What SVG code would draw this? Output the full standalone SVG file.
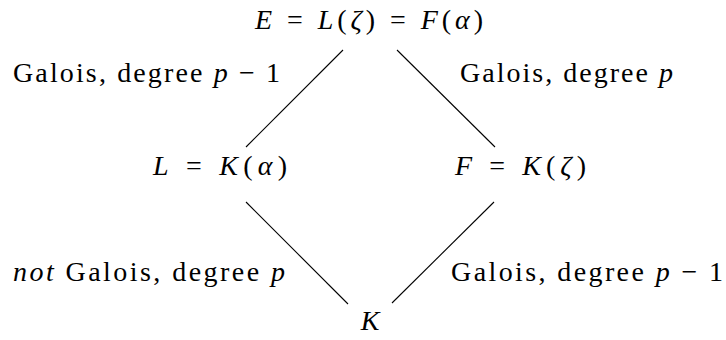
<svg xmlns="http://www.w3.org/2000/svg" width="726" height="340" viewBox="0 0 726 340">
<style>
.i{font-style:italic}
.edge{stroke:#000;stroke-width:1.1;fill:none}
</style>
<rect width="726" height="340" fill="#fff"/>
<g id="connectors">
<line class="edge" x1="343" y1="50" x2="246" y2="147"/>
<line class="edge" x1="397" y1="50" x2="495" y2="147"/>
<line class="edge" x1="246" y1="202" x2="348" y2="304"/>
<line class="edge" x1="494" y1="202" x2="392" y2="303"/>
</g>
<g font-family="Liberation Serif, DejaVu Serif, serif" font-size="28" fill="#000">
<g id="nodeE"><text x="255" y="29" textLength="228" lengthAdjust="spacing"><tspan class="i">E</tspan> = <tspan class="i">L</tspan>(<tspan class="i">ζ</tspan>) = <tspan class="i">F</tspan>(<tspan class="i">α</tspan>)</text></g>
<g id="nodeL"><text x="153" y="175" textLength="134" lengthAdjust="spacing"><tspan class="i">L</tspan> = <tspan class="i">K</tspan>(<tspan class="i">α</tspan>)</text></g>
<g id="nodeF"><text x="455" y="175" textLength="131" lengthAdjust="spacing"><tspan class="i">F</tspan> = <tspan class="i">K</tspan>(<tspan class="i">ζ</tspan>)</text></g>
<g id="nodeK"><text x="370" y="330" text-anchor="middle" class="i">K</text></g>
<g id="labels">
<text x="13" y="82" textLength="267" lengthAdjust="spacing">Galois, degree <tspan class="i">p</tspan> − 1</text>
<text x="460" y="82" textLength="213" lengthAdjust="spacing">Galois, degree <tspan class="i">p</tspan></text>
<text x="13" y="281" textLength="272" lengthAdjust="spacing"><tspan class="i">not</tspan> Galois, degree <tspan class="i">p</tspan></text>
<text x="451" y="281" textLength="272" lengthAdjust="spacing">Galois, degree <tspan class="i">p</tspan> − 1</text>
</g>
</g>
</svg>
